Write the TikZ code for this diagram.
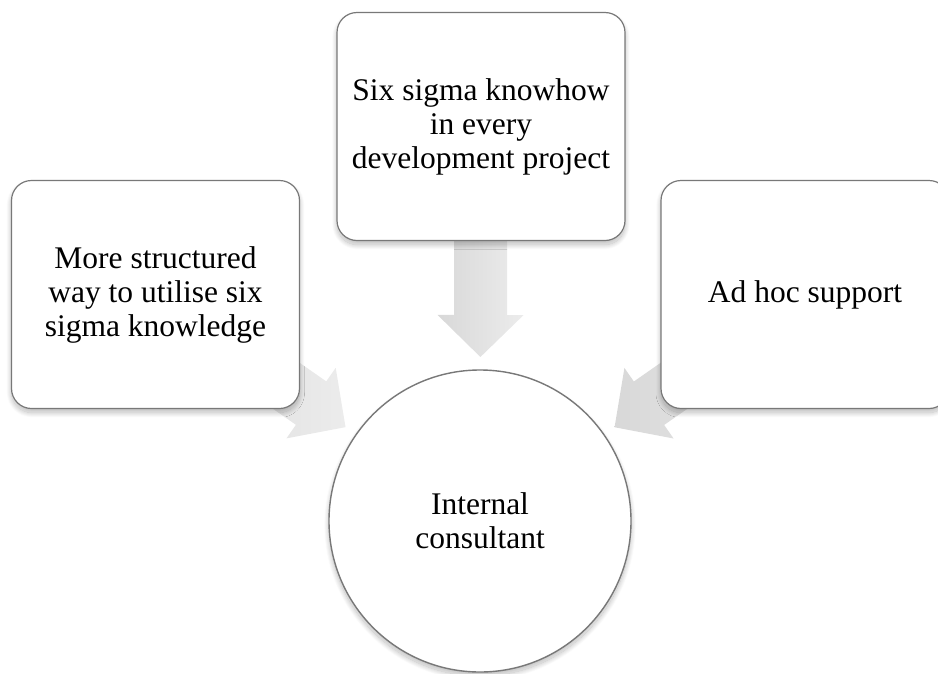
\documentclass[tikz,border=0pt]{standalone}
\usepackage{fontspec}
\setmainfont{Liberation Serif}
\usetikzlibrary{calc,shadows.blur}
\pgfdeclarelayer{background}
\pgfsetlayers{background,main}

\definecolor{boxline}{RGB}{120,120,120}
\definecolor{arrowdark}{RGB}{216,216,216}
\definecolor{arrowlight}{RGB}{236,236,236}
\newcommand\bodyfont{\fontsize{31.5pt}{34pt}\selectfont}

\tikzset{
  softshadow/.style={blur shadow={shadow xshift=0pt, shadow yshift=-4pt,
      shadow blur radius=5pt, shadow blur steps=30, shadow opacity=28}},
  box/.style={draw=boxline, line width=1.2pt, fill=white, rounded corners=20pt,
      minimum width=288pt, minimum height=228pt, inner sep=0pt,
      align=center, font=\bodyfont, softshadow},
  hubnode/.style={circle, draw=boxline, line width=1.4pt, fill=white,
      minimum size=302pt, inner sep=0pt, align=center, font=\bodyfont, softshadow},
  blockarrow/.style={left color=arrowdark, right color=arrowlight, draw=none}
}

% block arrow from a source box towards the hub, tip kept 13pt off the circle
\newcommand\feeder[1]{%
  \coordinate (tip-#1) at ($(hub)!164pt!(#1)$);
  \pgfmathanglebetweenpoints{\pgfpointanchor{hub}{center}}{\pgfpointanchor{#1}{center}}%
  \let\feederangle\pgfmathresult
  \begin{scope}[shift={(tip-#1)}, rotate=\feederangle]
    \path[blockarrow] (0,0) -- (42,43) -- (42,26.5) -- (225,26.5)
      -- (225,-26.5) -- (42,-26.5) -- (42,-43) -- cycle;
  \end{scope}}

\begin{document}
\begin{tikzpicture}[x=1pt,y=-1pt]
  \useasboundingbox (0,0) rectangle (938,673);
  \clip (0,0) rectangle (938,673);

  \node[box] (lbox) at (155.5,294.5) {More structured\\way to utilise six\\sigma knowledge};
  \node[box] (tbox) at (481,126.5) {Six sigma knowhow\\in every\\development project};
  \node[box] (rbox) at (805,294.5) {Ad hoc support};
  \node[hubnode] (hub) at (480,521) {Internal\\consultant};

  \begin{pgfonlayer}{background}
    \feeder{lbox}
    \feeder{tbox}
    \feeder{rbox}
  \end{pgfonlayer}
\end{tikzpicture}
\end{document}
